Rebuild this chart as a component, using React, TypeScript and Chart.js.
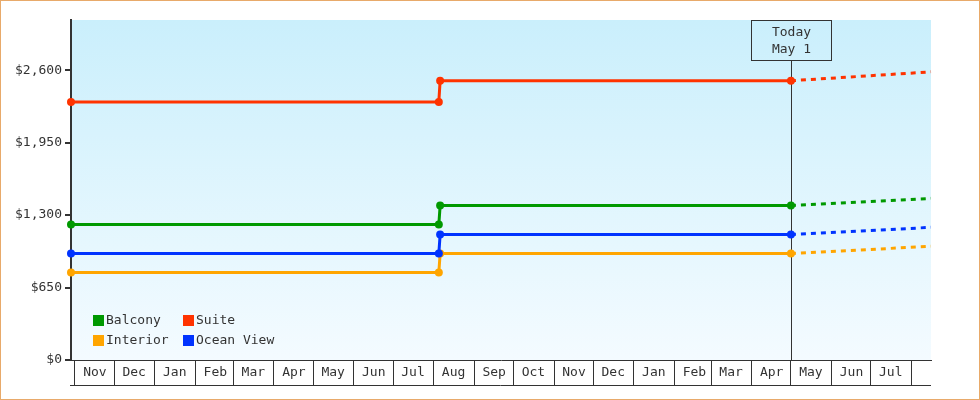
import { useEffect, useRef } from "react"
import { Chart, registerables } from "chart.js"

Chart.register(...registerables)

const FONT = '"DejaVu Sans Mono", monospace'

// price points: start of axis, the August step, today and the projection at the right edge
const pointDates = ["2023-10-29", "2024-08-05", "2024-08-06", "2025-05-01", "2025-08-16"]
const balconyPrices = [1215, 1215, 1385, 1385, 1450]
const suitePrices = [2315, 2315, 2505, 2505, 2585]
const interiorPrices = [785, 785, 955, 955, 1020]
const oceanViewPrices = [955, 955, 1125, 1125, 1190]

// one tick per month start, from Nov 2023; the last cell (Aug 2025) is cut off and has no label
const monthLabels = [
  "Nov", "Dec", "Jan", "Feb", "Mar", "Apr", "May", "Jun", "Jul", "Aug", "Sep",
  "Oct", "Nov", "Dec", "Jan", "Feb", "Mar", "Apr", "May", "Jun", "Jul", "",
]
const firstTickYear = 2023
const firstTickMonth = 10
const yTicks = [0, 650, 1300, 1950, 2600]
const xMin = "2023-10-29"
const xMax = "2025-08-16"
const yMax = 3050
const todayDate = "2025-05-01"
const todayText = ["Today", "May 1"]

const toTime = (d: string) => Date.parse(d + "T00:00:00Z")
const today = toTime(todayDate)

const series = [
  { label: "Balcony", color: "#009900", values: balconyPrices, order: 0 },
  { label: "Suite", color: "#ff3300", values: suitePrices, order: 0 },
  { label: "Interior", color: "#ffa500", values: interiorPrices, order: 1 },
  { label: "Ocean View", color: "#0033ff", values: oceanViewPrices, order: 0 },
]

const backgroundPlugin = {
  id: "plotBackground",
  beforeDraw(chart: any) {
    const { ctx, chartArea: a } = chart
    const g = ctx.createLinearGradient(0, a.top, 0, a.bottom)
    g.addColorStop(0, "#caeffc")
    g.addColorStop(1, "#f4fbff")
    ctx.save()
    ctx.fillStyle = g
    ctx.fillRect(a.left, a.top, a.right - a.left, a.bottom - a.top)
    ctx.restore()
  },
}

const todayPlugin = {
  id: "todayMarker",
  beforeDatasetsDraw(chart: any) {
    const { ctx, chartArea: a, scales } = chart
    const x = Math.round(scales.x.getPixelForValue(today)) + 0.5
    ctx.save()
    ctx.strokeStyle = "#333"
    ctx.lineWidth = 1
    ctx.beginPath()
    ctx.moveTo(x, a.top + 40.5)
    ctx.lineTo(x, a.bottom)
    ctx.stroke()
    ctx.strokeRect(x - 40, a.top + 0.5, 80, 40)
    ctx.fillStyle = "#333"
    ctx.font = `13px ${FONT}`
    ctx.textAlign = "center"
    ctx.textBaseline = "middle"
    ctx.fillText(todayText[0], x, a.top + 12.5)
    ctx.fillText(todayText[1], x, a.top + 30)
    ctx.restore()
  },
}

const legendPlugin = {
  id: "insideLegend",
  afterDatasetsDraw(chart: any) {
    const { ctx, chartArea: a } = chart
    ctx.save()
    ctx.font = `13px ${FONT}`
    ctx.textBaseline = "middle"
    chart.data.datasets.forEach((ds: any, i: number) => {
      const x = a.left + 22 + (i % 2) * 90
      const y = a.bottom - 45 + Math.floor(i / 2) * 20
      ctx.fillStyle = ds.borderColor
      ctx.fillRect(x, y, 11, 11)
      ctx.fillStyle = "#333"
      ctx.fillText(ds.label, x + 13, y + 6)
    })
    ctx.restore()
  },
}

const axisBottomPlugin = {
  id: "axisBottom",
  afterDraw(chart: any) {
    const { ctx, chartArea: a } = chart
    ctx.save()
    ctx.strokeStyle = "#333"
    ctx.lineWidth = 1
    ctx.beginPath()
    ctx.moveTo(a.left - 1, a.bottom + 25.5)
    ctx.lineTo(a.right, a.bottom + 25.5)
    ctx.stroke()
    ctx.restore()
  },
}

export default function App() {
  const chartRef = useRef<HTMLCanvasElement>(null)
  const chartInstance = useRef<Chart | null>(null)

  useEffect(() => {
    if (!chartRef.current) return
    if (chartInstance.current) chartInstance.current.destroy()

    const ctx = chartRef.current.getContext("2d")
    if (!ctx) return

    Chart.defaults.font.family = FONT
    Chart.defaults.font.size = 13

    chartInstance.current = new Chart(ctx, {
      type: "line",
      data: {
        datasets: series.map((s) => ({
          label: s.label,
          data: s.values.map((v, i) => ({ x: toTime(pointDates[i]), y: v })),
          borderColor: s.color,
          backgroundColor: s.color,
          borderWidth: 3,
          pointBackgroundColor: s.color,
          pointBorderWidth: 0,
          pointRadius: (c: any) => (c.raw && c.raw.x <= today ? 4 : 0),
          pointHoverRadius: 0,
          order: s.order,
          clip: false as any,
          segment: {
            borderDash: (c: any) => (c.p0.parsed.x >= today ? [5, 5] : undefined),
          },
        })),
      },
      options: {
        animation: false,
        responsive: true,
        maintainAspectRatio: false,
        events: [],
        layout: { padding: { top: 19, right: 48, bottom: 14, left: 0 } },
        plugins: {
          legend: { display: false },
          tooltip: { enabled: false },
        },
        scales: {
          x: {
            type: "linear",
            min: toTime(xMin),
            max: toTime(xMax),
            afterBuildTicks: (scale: any) => {
              scale.ticks = monthLabels.map((_, i) => ({
                value: Date.UTC(firstTickYear, firstTickMonth + i, 1),
              }))
            },
            afterFit: (scale: any) => {
              scale.height = 25
            },
            grid: {
              drawOnChartArea: false,
              tickLength: 25,
              color: "#333",
              lineWidth: 1,
            },
            border: { display: true, color: "#333", width: 1 },
            ticks: {
              autoSkip: false,
              maxRotation: 0,
              minRotation: 0,
              labelOffset: 20,
              padding: -20,
              color: "#333",
              font: { family: FONT, size: 13 },
              callback: (_v: any, i: number) => monthLabels[i] ?? "",
            },
          },
          y: {
            min: 0,
            max: yMax,
            afterBuildTicks: (scale: any) => {
              scale.ticks = yTicks.map((v) => ({ value: v }))
            },
            afterFit: (scale: any) => {
              scale.width = 70
            },
            grid: {
              drawOnChartArea: false,
              tickLength: 6,
              color: "#333",
              lineWidth: 2,
            },
            border: { display: true, color: "#333", width: 2 },
            ticks: {
              padding: 3,
              color: "#333",
              font: { family: FONT, size: 13 },
              callback: (v: any) => "$" + Number(v).toLocaleString("en-US"),
            },
          },
        },
      },
      plugins: [backgroundPlugin, todayPlugin, legendPlugin, axisBottomPlugin],
    })

    return () => {
      if (chartInstance.current) {
        chartInstance.current.destroy()
        chartInstance.current = null
      }
    }
  }, [])

  return (
    <div
      style={{
        position: "absolute",
        left: 0,
        top: 0,
        width: 980,
        height: 400,
        boxSizing: "border-box",
        border: "1px solid #e8aa6a",
        background: "#fff",
      }}
    >
      <div style={{ position: "relative", width: 978, height: 398 }}>
        <canvas ref={chartRef}></canvas>
      </div>
    </div>
  )
}
